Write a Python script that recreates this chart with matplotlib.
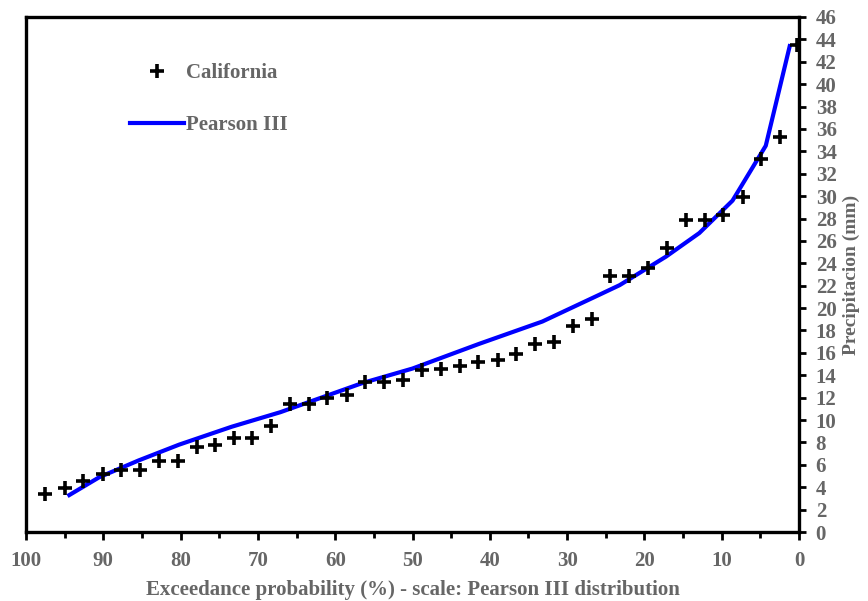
import matplotlib
matplotlib.use("Agg")
import matplotlib.pyplot as plt
from matplotlib.ticker import MultipleLocator

# observed points (exceedance %, precipitation mm)
obs_prob = [97.5, 95.0, 92.6, 90.1, 87.7, 85.3, 82.8, 80.4, 77.9, 75.5,
            73.1, 70.7, 68.3, 65.8, 63.4, 61.0, 58.5, 56.1, 53.7, 51.2,
            48.8, 46.3, 43.9, 41.5, 39.0, 36.6, 34.1, 31.7, 29.3, 26.8,
            24.4, 22.0, 19.5, 17.1, 14.6, 12.2, 9.8, 7.3, 4.9, 2.4, 0.3]
obs_prec = [3.4, 3.9, 4.6, 5.2, 5.5, 5.5, 6.3, 6.3, 7.6, 7.8,
            8.4, 8.4, 9.5, 11.4, 11.4, 12.0, 12.2, 13.4, 13.4, 13.6,
            14.5, 14.6, 14.8, 15.2, 15.4, 15.9, 16.8, 17.0, 18.4, 19.0,
            22.9, 22.9, 23.6, 25.4, 27.9, 27.9, 28.3, 29.9, 33.3, 35.3, 43.5]

# fitted Pearson III curve
fit_prob = [94.4, 90.5, 85.4, 80.2, 73.4, 67.1, 56.5, 50.0, 41.4, 33.2,
            25.8, 23.2, 17.2, 12.9, 8.6, 4.3, 1.2]
fit_prec = [3.3, 4.9, 6.4, 7.8, 9.4, 10.7, 13.3, 14.6, 16.8, 18.8,
            21.2, 22.05, 24.6, 26.7, 29.6, 34.5, 43.4]

grey = "#666666"
fs = 15
plt.rcParams["font.family"] = ["Liberation Serif", "DejaVu Serif"]
plt.rcParams["font.weight"] = "bold"

fig = plt.figure(figsize=(8.68, 6.01), dpi=100)
ax = fig.add_axes([26 / 868, 1 - 532 / 601, (799 - 26) / 868, (532 - 17) / 601])

ax.plot(obs_prob, obs_prec, linestyle="none", marker="+", color="black",
        markersize=10, markeredgewidth=2.6, label="California", zorder=3)
ax.plot(fit_prob, fit_prec, color="#0000FF", linewidth=3, label="Pearson III",
        zorder=2)

ax.set_xlim(100, 0)
ax.set_ylim(0, 46)
ax.xaxis.set_major_locator(MultipleLocator(10))
ax.xaxis.set_minor_locator(MultipleLocator(5))
ax.yaxis.set_major_locator(MultipleLocator(2))
ax.yaxis.tick_right()
ax.yaxis.set_label_position("right")

for s in ax.spines.values():
    s.set_linewidth(2.4)
ax.tick_params(axis="both", which="both", direction="out", width=2,
               colors="black", labelcolor=grey, labelsize=fs)
ax.tick_params(axis="x", which="major", length=6, pad=8)
ax.tick_params(axis="x", which="minor", length=4)
ax.tick_params(axis="y", length=5, pad=7)
for lab in ax.get_xticklabels() + ax.get_yticklabels():
    lab.set_fontweight("bold")

ax.set_xlabel("Exceedance probability (%) - scale: Pearson III distribution",
              fontsize=fs, fontweight="bold", color=grey, labelpad=6)
ax.set_ylabel("Precipitacion (mm)", fontsize=14, fontweight="bold",
              color=grey, labelpad=4)

leg = ax.legend(loc="upper left", bbox_to_anchor=(0.11, 0.947), frameon=False,
                fontsize=fs, handlelength=2.6, handletextpad=0.1,
                labelspacing=1.55)
for t in leg.get_texts():
    t.set_color(grey)
    t.set_fontweight("bold")

fig.savefig("out.png", dpi=100)
